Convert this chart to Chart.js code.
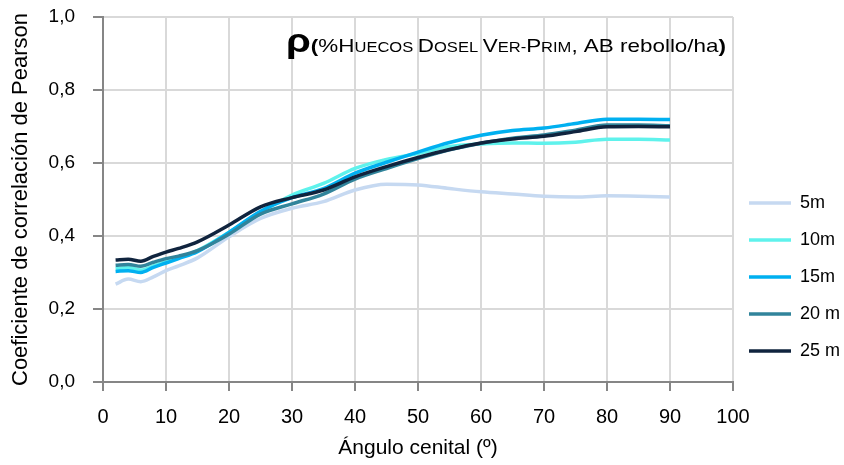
<!DOCTYPE html>
<html>
<head>
<meta charset="utf-8">
<script src="https://cdn.jsdelivr.net/npm/chart.js@4.4.1/dist/chart.umd.min.js"></script>
<style>
  body { margin: 0; background: #fff; }
  #wrap { width: 844px; height: 465px; }
</style>
</head>
<body>
<div id="wrap"><canvas id="chart1" width="844" height="465"></canvas></div>
<script>
// ----------------------- DATA -----------------------
const angles = [2, 4, 6, 8, 10, 12, 15, 20, 25, 30, 35, 40, 45, 50, 55, 60, 65, 70, 75, 80, 85, 90];
const seriesNames = ["5m", "10m", "15m", "20 m", "25 m"];
const r5 = [0.268, 0.282, 0.275, 0.288, 0.305, 0.318, 0.34, 0.398, 0.448, 0.476, 0.494, 0.526, 0.542, 0.54, 0.53, 0.521, 0.515, 0.509, 0.507, 0.51, 0.509, 0.507];
const r10 = [0.31, 0.314, 0.307, 0.318, 0.33, 0.34, 0.36, 0.41, 0.465, 0.512, 0.544, 0.585, 0.61, 0.626, 0.645, 0.652, 0.655, 0.654, 0.657, 0.665, 0.665, 0.663];
const r15 = [0.303, 0.305, 0.3, 0.314, 0.326, 0.338, 0.357, 0.41, 0.468, 0.505, 0.53, 0.572, 0.602, 0.63, 0.656, 0.676, 0.689, 0.696, 0.708, 0.72, 0.72, 0.719];
const r20 = [0.32, 0.322, 0.317, 0.328, 0.338, 0.345, 0.36, 0.405, 0.46, 0.488, 0.515, 0.556, 0.585, 0.612, 0.636, 0.654, 0.668, 0.677, 0.69, 0.704, 0.704, 0.702];
const r25 = [0.334, 0.336, 0.331, 0.344, 0.356, 0.366, 0.384, 0.43, 0.48, 0.505, 0.526, 0.562, 0.59, 0.615, 0.637, 0.655, 0.666, 0.673, 0.686, 0.699, 0.7, 0.699];
const colors = ["#c6d9f1", "#5ff2ec", "#00b0f0", "#31849b", "#10243e"];

// ----------------------- UTIL -----------------------
function points(values) {
  return values.map((v, i) => ({ x: angles[i], y: v }));
}

// titulo con versalitas, dibujado a mano (Chart.js no sabe de small caps)
const titleParts = [
  ["ρ", "bold 34px"],
  ["(", "bold 19px"],
  ["%H", "19px"],
  ["UECOS ", "14px"],
  ["D", "19px"],
  ["OSEL ", "14px"],
  ["V", "19px"],
  ["ER-", "14px"],
  ["P", "19px"],
  ["RIM", "14px"],
  [", AB rebollo/ha", "19px"],
  [")", "bold 19px"],
];

const smallCapsTitle = {
  id: "smallCapsTitle",
  afterDraw(chart) {
    const ctx = chart.ctx;
    const fam = " 'Liberation Sans', Arial, sans-serif";
    ctx.save();
    let total = 0;
    titleParts.forEach((p) => {
      ctx.font = p[1] + fam;
      total += ctx.measureText(p[0]).width;
    });
    // el original esta algo estirado en horizontal
    const sx = 440 / total;
    ctx.translate(286, 52);
    ctx.scale(sx, 1);
    let x = 0;
    ctx.fillStyle = "#000";
    ctx.textBaseline = "alphabetic";
    titleParts.forEach((p) => {
      ctx.font = p[1] + fam;
      ctx.fillText(p[0], x, 0);
      x += ctx.measureText(p[0]).width;
    });
    ctx.restore();
  },
};

// mover la leyenda a la derecha, donde esta en el original
const moveLegend = {
  id: "moveLegend",
  afterLayout(chart) {
    const lg = chart.legend;
    const w = lg.width, h = lg.height;
    lg.left = 749 - lg.options.labels.padding;
    lg.top = 194 - lg.options.labels.padding;
    lg.right = lg.left + w;
    lg.bottom = lg.top + h;
  },
};

// ----------------------- CHART -----------------------
Chart.defaults.font.family = "'Liberation Sans', Arial, sans-serif";
Chart.defaults.color = "#000";

const datasets = [r5, r10, r15, r20, r25].map((vals, i) => ({
  label: seriesNames[i],
  data: points(vals),
  borderColor: colors[i],
  backgroundColor: colors[i],
  borderWidth: 3.5,
  pointRadius: 0,
  cubicInterpolationMode: "monotone",
  order: 5 - i,
}));

new Chart(document.getElementById("chart1"), {
  type: "line",
  data: { datasets: datasets },
  options: {
    responsive: false,
    animation: false,
    layout: { padding: { left: 0, top: 17, right: 111, bottom: 0 } },
    plugins: {
      tooltip: { enabled: false },
      legend: {
        position: "chartArea",
        align: "start",
        labels: {
          usePointStyle: true,
          pointStyle: "line",
          pointStyleWidth: 42,
          padding: 19,
          font: { size: 18 },
          sort: (a, b) => a.datasetIndex - b.datasetIndex,
        },
      },
    },
    scales: {
      x: {
        type: "linear",
        min: 0,
        max: 100,
        ticks: { stepSize: 10, padding: 14, font: { size: 20 } },
        grid: { color: "#d9d9d9", lineWidth: 2, tickColor: "#868686", tickLength: 9 },
        border: { color: "#868686", width: 2 },
        title: { display: true, text: "Ángulo cenital (º)", font: { size: 21 }, padding: { top: 0, bottom: 4 } },
        afterFit(scale) {
          scale.height = 83;
          scale.paddingLeft = 0;
          scale.paddingRight = 0;
        },
      },
      y: {
        min: 0,
        max: 1,
        ticks: {
          stepSize: 0.2,
          padding: 18,
          font: { size: 19 },
          callback: (v) => v.toFixed(1).replace(".", ","),
        },
        grid: { color: "#d9d9d9", lineWidth: 2, tickColor: "#868686", tickLength: 10 },
        border: { color: "#868686", width: 2 },
        title: { display: true, text: "Coeficiente de correlación de Pearson", font: { size: 22 }, padding: { top: 8, bottom: 0 } },
        afterFit(scale) {
          scale.width = 103;
          scale.paddingTop = 0;
          scale.paddingBottom = 0;
        },
      },
    },
  },
  plugins: [moveLegend, smallCapsTitle],
});
</script>
</body>
</html>
